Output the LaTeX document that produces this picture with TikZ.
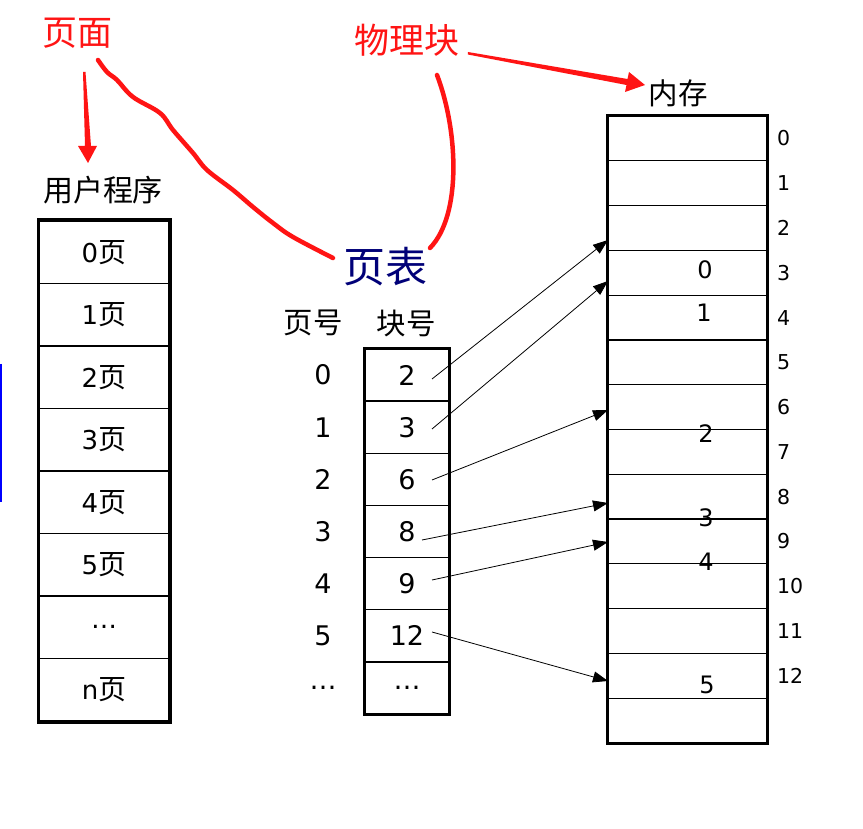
\documentclass[tikz,border=0pt]{standalone}
\usepackage{fontspec}
\setmainfont{DejaVu Sans}
\newfontfamily\cjk{Noto Sans CJK SC}
\usetikzlibrary{arrows.meta,calc}
\definecolor{annred}{RGB}{255,20,20}
\definecolor{navy}{RGB}{0,0,120}
\begin{document}
\begin{tikzpicture}[x=1pt,y=-1pt,
  ucell/.style={draw, line width=1.6pt, minimum width=130pt, minimum height=62.5pt, inner sep=0pt, font=\fontsize{26}{30}\selectfont},
  pcell/.style={draw, line width=1.5pt, minimum width=84pt, minimum height=52.14pt, inner sep=0pt, font=\fontsize{27}{30}\selectfont},
  mcell/.style={draw, line width=1.2pt, minimum width=159pt, minimum height=44.786pt, inner sep=0pt},
  outerline/.style={line width=3.4pt},
  numtxt/.style={font=\fontsize{27}{30}\selectfont, inner sep=0pt},
  memtxt/.style={font=\fontsize{24}{28}\selectfont, inner sep=0pt},
  idxtxt/.style={font=\fontsize{20.5}{24}\selectfont, inner sep=0pt, anchor=west},
  hdtxt/.style={font=\cjk\fontsize{29.5}{32}\selectfont, inner sep=0pt},
  redtxt/.style={font=\cjk\fontsize{35}{40}\selectfont, text=annred, inner sep=0pt},
  redline/.style={draw=annred, line width=4.5pt, line cap=round, line join=round},
  maparrow/.style={line width=0.8pt, -{Triangle[length=15pt,width=11pt]}}
]
\useasboundingbox (0,0) rectangle (863,829);
\fill[white] (0,0) rectangle (863,829);

% left blue line
\draw[blue, line width=1.6pt] (0.8,364) -- (0.8,502);

% user program
\node[hdtxt, font=\cjk\fontsize{30}{34}\selectfont] (uph) at (103,190) {用户程序};
\node[ucell] (u0) at (104,252.25) {0{\cjk\fontsize{28}{30}\selectfont 页}};
\node[ucell] (u1) at (104,314.75) {1{\cjk\fontsize{28}{30}\selectfont 页}};
\node[ucell] (u2) at (104,377.25) {2{\cjk\fontsize{28}{30}\selectfont 页}};
\node[ucell] (u3) at (104,439.75) {3{\cjk\fontsize{28}{30}\selectfont 页}};
\node[ucell] (u4) at (104,502.25) {4{\cjk\fontsize{28}{30}\selectfont 页}};
\node[ucell] (u5) at (104,564.75) {5{\cjk\fontsize{28}{30}\selectfont 页}};
\node[ucell] (u6) at (104,627.25) {…};
\node[ucell] (u7) at (104,689.75) {n{\cjk\fontsize{28}{30}\selectfont 页}};
\draw[outerline] (u0.north west) rectangle (u7.south east);

% page table
\node[font=\cjk\fontsize{42}{46}\selectfont, text=navy, inner sep=0pt] (pt) at (385,267) {页表};
\node[hdtxt] (phy) at (313,323) {页号};
\node[hdtxt] (phk) at (406,323) {块号};
\foreach \i/\b in {0/2,1/3,2/6,3/8,4/9,5/12,6/…}{
  \node[pcell] (p\i) at (407,{349+52.14*(\i+0.5)}) {\b};
}
\foreach \i/\a in {0/0,1/1,2/2,3/3,4/4,5/5,6/…}{
  \node[numtxt] (pn\i) at (323,{349+52.14*(\i+0.5)}) {\a};
}
\draw[outerline, line width=2.8pt] (p0.north west) rectangle (p6.south east);

% memory
\node[hdtxt] (mem) at (678,93) {内存};
\foreach \i in {0,...,13}{
  \node[mcell] (m\i) at (687.5,{116+44.786*(\i+0.5)}) {};
}
\foreach \i in {0,...,12}{
  \node[idxtxt] (ml\i) at (777,{116+44.786*(\i+0.5)}) {\i};
}
\draw[outerline] (m0.north west) rectangle (m13.south east);
\node[memtxt] (mt0) at (705,270) {0};
\node[memtxt] (mt1) at (704,313) {1};
\node[memtxt] (mt2) at (706,434) {2};
\node[memtxt] (mt3) at (706,518) {3};
\node[memtxt] (mt4) at (706,562) {4};
\node[memtxt] (mt5) at (707,685) {5};

% mapping arrows
\coordinate (s0) at (432,379); \coordinate (e0) at (608,240);
\coordinate (s1) at (432,429); \coordinate (e1) at (608,281);
\coordinate (s2) at (432,480); \coordinate (e2) at (608,410);
\coordinate (s3) at (422,540); \coordinate (e3) at (608,503);
\coordinate (s4) at (432,580); \coordinate (e4) at (608,542);
\coordinate (s5) at (432,632); \coordinate (e5) at (608,681);
\foreach \i in {0,...,5}{ \draw[maparrow] (s\i) -- (e\i); }

% red annotations
\node[redtxt] (ym) at (77,33) {页面};
\node[redtxt] (wl) at (407,40) {物理块};
\fill[annred] (83,72) -- (85.5,72) -- (91,146) -- (97,146) -- (88,163) -- (78,146) -- (85,146) -- cycle;
\fill[annred] (468,52) -- (627.5,79) -- (629,72) -- (645,85) -- (625,92) -- (626.5,85) -- (467.8,54.5) -- cycle;
\draw[redline] plot[smooth, tension=0.6] coordinates {(98,60) (107,72) (117,80) (133,97) (160,113) (173,130) (193,153) (207,170) (233,190) (253,207) (273,223) (293,237) (333,258)};
\draw[redline] (437,75) .. controls (458,130) and (462,215) .. (430,248);
\end{tikzpicture}
\end{document}
